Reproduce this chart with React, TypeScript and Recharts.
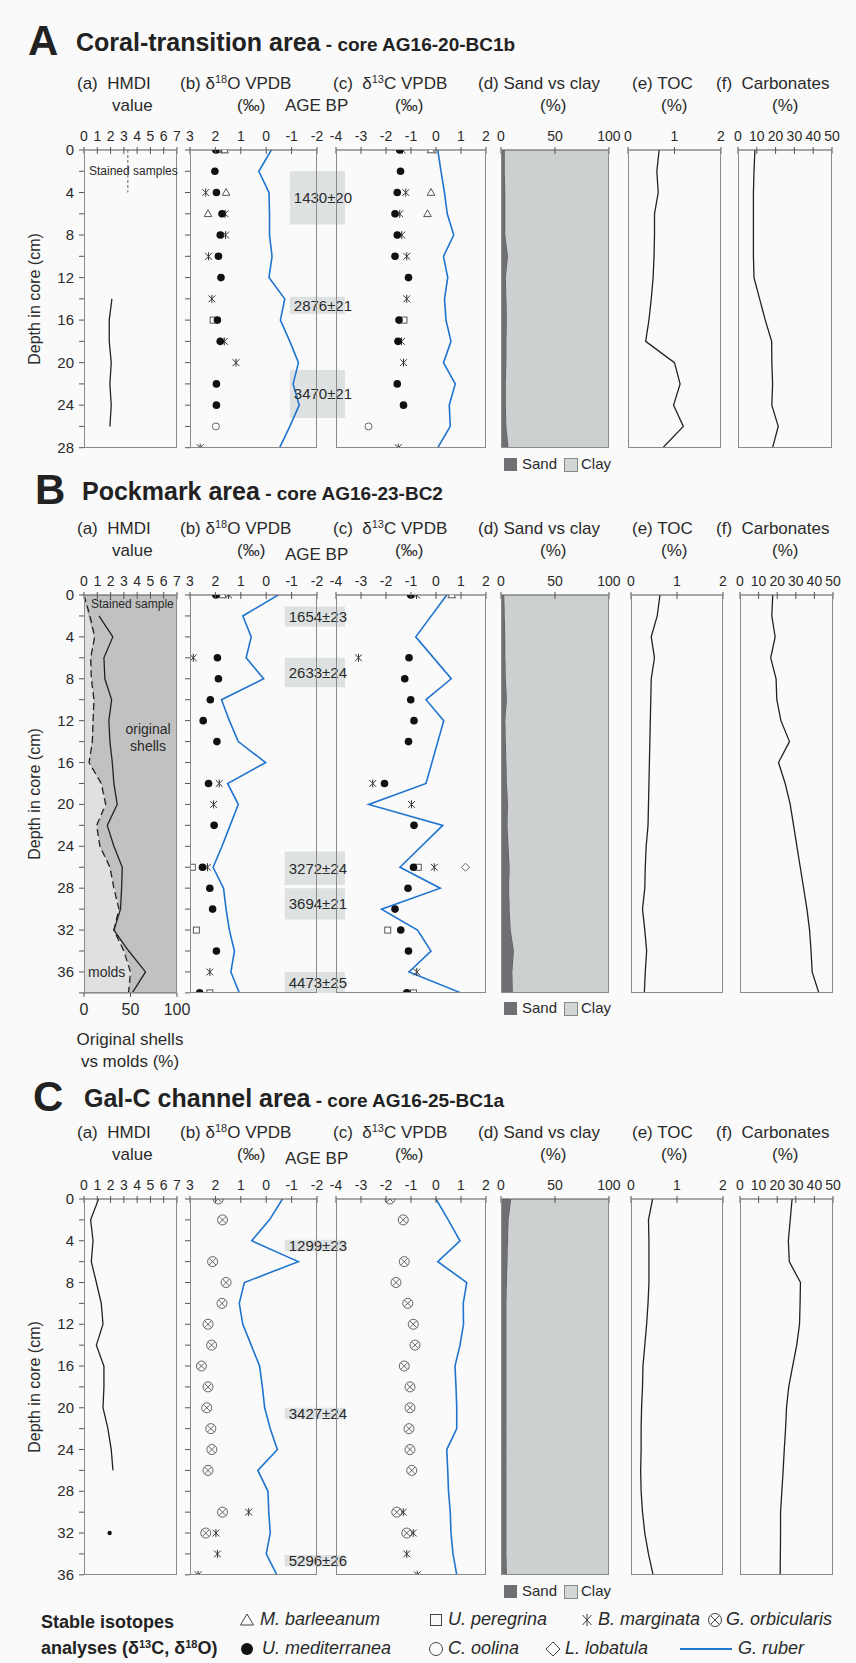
import React from 'react';
import {
  ComposedChart,
  Line,
  Scatter,
  Area,
  XAxis,
  YAxis,
  ReferenceArea,
  ReferenceLine,
} from 'recharts';

const FONT = 'Arial, "Liberation Sans", Helvetica, sans-serif';
const INK = '#2a2a2a';
const BLUE = '#1f74d0';
const PAD_L = 40;
const PAD_T = 30;

type Pair = [number, number];

// ---------- A: coral-transition area, core AG16-20-BC1b
const depthA = [0, 2, 4, 6, 8, 10, 12, 14, 16, 18, 20, 22, 24, 26, 28];
const hmdiA: Pair[] = [[14, 2.1], [16, 1.9], [18, 1.9], [20, 2.05], [22, 1.95], [24, 2.05], [26, 1.95]];
const d18oMedA: Pair[] = [[0, 1.98], [2, 2.02], [4, 1.96], [6, 1.74], [8, 1.81], [10, 1.88], [12, 1.78], [16, 1.92], [18, 1.81], [22, 1.96], [24, 1.96]];
const d18oMarA: Pair[] = [[0, 1.74], [4, 2.38], [6, 1.62], [8, 1.6], [10, 2.27], [14, 2.14], [18, 1.65], [20, 1.19], [28, 2.6]];
const d18oBarA: Pair[] = [[0, 1.64], [4, 1.58], [6, 2.29]];
const d18oPerA: Pair[] = [[16, 2.09]];
const d18oOolA: Pair[] = [[26, 1.98]];
const d18oRubA = [-0.2, 0.29, -0.11, -0.13, -0.13, -0.23, -0.11, -0.73, -0.56, -0.93, -1.27, -1.06, -1.3, -0.93, -0.53];
const d13cMedA: Pair[] = [[0, -1.45], [2, -1.42], [4, -1.55], [6, -1.64], [8, -1.55], [10, -1.64], [12, -1.1], [16, -1.48], [18, -1.52], [22, -1.55], [24, -1.3]];
const d13cMarA: Pair[] = [[0, -1.35], [4, -1.21], [6, -1.45], [8, -1.37], [10, -1.17], [14, -1.17], [18, -1.38], [20, -1.3], [28, -1.51]];
const d13cBarA: Pair[] = [[0, -0.2], [4, -0.2], [6, -0.34]];
const d13cPerA: Pair[] = [[16, -1.28]];
const d13cOolA: Pair[] = [[26, -2.7]];
const d13cRubA = [0.07, 0.2, 0.34, 0.45, 0.71, 0.3, 0.47, 0.34, 0.4, 0.6, 0.3, 0.77, 0.53, 0.57, 0.07];
const sandA = [3.5, 3.5, 4, 4, 4, 6.5, 4.5, 5, 5.5, 5, 5, 4.5, 4.5, 5, 7];
const tocA = [0.67, 0.62, 0.65, 0.57, 0.57, 0.56, 0.54, 0.5, 0.45, 0.38, 1.0, 1.12, 0.98, 1.19, 0.75];
const carbA = [9, 8.5, 8.2, 8.2, 8.2, 8.2, 8.5, 11.5, 14.5, 17.9, 18, 18.4, 18, 21.4, 18.4];
const agesA = ['1430±20', '2876±21', '3470±21'];
const ageTopA = [2, 13.8, 20.7];
const ageBotA = [7, 15.4, 25.2];

// ---------- B: pockmark area, core AG16-23-BC2
const depthB = [0, 2, 4, 6, 8, 10, 12, 14, 16, 18, 20, 22, 24, 26, 28, 30, 32, 34, 36, 38];
const moldsB = [0, 5.3, 11.4, 7.9, 9, 11.4, 10, 9, 6.5, 19.6, 25, 15, 18, 28.5, 34, 39, 34, 44.6, 52, 48];
const hmdiDashB = [0, 0.45, 0.8, 0.5, 0.55, 0.75, 0.68, 0.63, 0.38, 1.3, 1.63, 0.95, 1.2, 1.95, 2.25, 2.63, 2.25, 3.0, 3.5, 3.35];
const hmdiSolidB: Pair[] = [[2, 1.13], [4, 2.17], [6, 1.5], [8, 1.57], [10, 2.08], [12, 1.87], [14, 1.95], [16, 2.13], [18, 2.25], [20, 2.5], [22, 1.75], [24, 2.25], [26, 2.88], [28, 2.83], [30, 2.75], [32, 2.25], [34, 3.37], [36, 4.63], [38, 3.63]];
const d18oMedB: Pair[] = [[0, 1.98], [6, 1.92], [8, 1.88], [10, 2.2], [12, 2.48], [14, 1.94], [18, 2.27], [22, 2.05], [26, 2.51], [28, 2.22], [30, 2.11], [34, 1.96], [38, 2.62]];
const d18oPerB: Pair[] = [[26, 2.91], [32, 2.75], [38, 2.22]];
const d18oMarB: Pair[] = [[0, 1.48], [6, 2.87], [18, 1.85], [20, 2.07], [26, 2.31], [36, 2.22]];
const d18oBarB: Pair[] = [[0, 1.72]];
const d18oRubB = [-0.47, 0.92, 0.59, 0.79, 0.1, 1.76, 1.45, 1.1, 0.02, 1.52, 1.1, 1.42, 1.74, 2.09, 1.68, 1.58, 1.45, 1.25, 1.39, 1.06];
const d13cMedB: Pair[] = [[0, -1.01], [6, -1.08], [8, -1.25], [10, -1.01], [12, -0.88], [14, -1.1], [18, -2.06], [22, -0.88], [26, -0.9], [28, -1.12], [30, -1.64], [32, -1.41], [34, -1.1], [38, -1.17]];
const d13cMarB: Pair[] = [[0, -0.78], [6, -3.1], [18, -2.53], [20, -0.98], [26, -0.07], [36, -0.77]];
const d13cPerB: Pair[] = [[26, -0.71], [32, -1.93], [38, -0.9]];
const d13cBarB: Pair[] = [[0, 0.63]];
const d13cLobB: Pair[] = [[26, 1.18]];
const d13cRubB: Pair[] = [[0, 0.43], [4, -0.81], [8, 0.61], [10, -0.4], [12, 0.31], [18, -0.4], [20, -2.69], [22, 0.27], [26, -1.44], [28, 0.17], [30, -2.18], [32, -0.74], [34, -0.2], [36, -1.08], [38, 1.0]];
const sandB = [3, 3.5, 4, 4, 4.5, 5.5, 4, 4.5, 5, 5.5, 6.5, 6, 7, 8, 7.5, 8, 9, 12, 10.5, 11];
const tocB = [0.63, 0.57, 0.44, 0.51, 0.44, 0.43, 0.42, 0.41, 0.4, 0.39, 0.38, 0.37, 0.33, 0.31, 0.3, 0.25, 0.3, 0.34, 0.31, 0.29];
const carbB = [17.6, 17.1, 18.9, 16.5, 19.4, 19.8, 22, 26.6, 20.7, 24.3, 27, 28.8, 30.6, 32.4, 34.2, 36, 37.4, 38.2, 38.8, 42.4];
const agesB = ['1654±23', '2633±24', '3272±24', '3694±21', '4473±25'];
const ageTopB = [1.1, 6.0, 24.5, 28.0, 36.0];
const ageBotB = [3.0, 8.8, 27.7, 31.0, 38.0];

// ---------- C: Gal-C channel area, core AG16-25-BC1a
const depthC = [0, 2, 4, 6, 8, 10, 12, 14, 16, 18, 20, 22, 24, 26, 28, 30, 32, 34, 36];
const hmdiC: Pair[] = [[0, 1.1], [2, 0.5], [4, 0.68], [6, 0.55], [8, 0.93], [10, 1.3], [12, 1.43], [14, 0.93], [16, 1.5], [18, 1.5], [20, 1.43], [22, 1.8], [24, 2.05], [26, 2.18]];
const hmdiDotC: Pair[] = [[32, 1.93]];
const d18oOrbC: Pair[] = [[0, 1.89], [2, 1.72], [6, 2.11], [8, 1.58], [10, 1.74], [12, 2.29], [14, 2.15], [16, 2.55], [18, 2.29], [20, 2.34], [22, 2.18], [24, 2.14], [26, 2.29], [30, 1.72], [32, 2.38]];
const d18oMarC: Pair[] = [[30, 0.69], [32, 1.98], [34, 1.92], [36, 2.68]];
const d18oRubC = [-0.64, -0.13, 0.57, -1.26, 0.86, 1.06, 0.92, 0.59, 0.26, 0.15, 0.06, -0.16, -0.44, 0.33, -0.07, -0.1, -0.16, 0.0, -0.42];
const d13cOrbC: Pair[] = [[0, -1.84], [2, -1.31], [6, -1.27], [8, -1.6], [10, -1.13], [12, -0.91], [14, -0.84], [16, -1.27], [18, -1.04], [20, -1.04], [22, -1.08], [24, -1.04], [26, -0.97], [30, -1.57], [32, -1.17]];
const d13cMarC: Pair[] = [[30, -1.31], [32, -0.91], [34, -1.17], [36, -0.75]];
const d13cRubC = [0.0, 0.49, 0.96, 0.07, 1.23, 1.09, 1.1, 0.96, 0.76, 0.8, 0.83, 0.83, 0.43, 0.47, 0.5, 0.57, 0.6, 0.68, 0.83];
const sandC = [9.5, 7, 6.5, 6, 5.5, 5, 5, 5, 5, 5, 5, 5, 5, 5, 5, 5, 5, 5, 5.5];
const tocC = [0.47, 0.38, 0.39, 0.39, 0.39, 0.37, 0.34, 0.3, 0.26, 0.25, 0.23, 0.22, 0.22, 0.21, 0.22, 0.25, 0.3, 0.38, 0.48];
const carbC = [28, 27, 26, 26.5, 32.5, 32.3, 32, 30.5, 28.3, 26.2, 25, 24.5, 23.8, 23.2, 22.5, 21.8, 21.8, 21.7, 21.6];
const agesC = ['1299±23', '3427±24', '5296±26'];
const ageTopC = [3.9, 20.0, 34.1];
const ageBotC = [5.0, 21.1, 35.2];

// axis ticks
const hmdiTicks = [0, 1, 2, 3, 4, 5, 6, 7];
const d18oTicks = [3, 2, 1, 0, -1, -2];
const d13cTicks = [-4, -3, -2, -1, 0, 1, 2];
const sandTicks = [0, 50, 100];
const tocTicks = [0, 1, 2];
const carbTicks = [0, 10, 20, 30, 40, 50];

const pts = (p: Pair[]) => p.map(([depth, v]) => ({ depth, v }));
const prof = (d: number[], v: number[]) => v.map((x, i) => ({ depth: d[i], v: x }));
const sandRows = (d: number[], s: number[]) => s.map((x, i) => ({ depth: d[i], sand: x, clay: 100 - x }));

// ---------- marker shapes
const DotShape = (p: any) => <circle cx={p.cx} cy={p.cy} r={3.8} fill="#111" />;
const SmallDot = (p: any) => <circle cx={p.cx} cy={p.cy} r={2.2} fill="#111" />;
const TriShape = (p: any) => (
  <path d={`M${p.cx},${p.cy - 4}L${p.cx + 3.8},${p.cy + 2.8}L${p.cx - 3.8},${p.cy + 2.8}Z`} fill="#fff" stroke="#444" strokeWidth={0.9} />
);
const SqShape = (p: any) => (
  <rect x={p.cx - 3} y={p.cy - 3} width={6} height={6} fill="#fff" stroke="#444" strokeWidth={0.9} />
);
const RingShape = (p: any) => <circle cx={p.cx} cy={p.cy} r={3.5} fill="#fff" stroke="#555" strokeWidth={0.9} />;
const DiaShape = (p: any) => (
  <path d={`M${p.cx},${p.cy - 4}L${p.cx + 4},${p.cy}L${p.cx},${p.cy + 4}L${p.cx - 4},${p.cy}Z`} fill="#fff" stroke="#555" strokeWidth={0.9} />
);
const AstShape = (p: any) => {
  const { cx, cy } = p;
  const r = 3.4;
  return (
    <g stroke="#333" strokeWidth={1}>
      <line x1={cx - r} y1={cy - r} x2={cx + r} y2={cy + r} />
      <line x1={cx - r} y1={cy + r} x2={cx + r} y2={cy - r} />
      <line x1={cx} y1={cy - r - 0.6} x2={cx} y2={cy + r + 0.6} />
    </g>
  );
};
const OrbShape = (p: any) => {
  const { cx, cy } = p;
  const r = 5;
  const k = 3.4;
  return (
    <g stroke="#555" strokeWidth={0.9} fill="none">
      <circle cx={cx} cy={cy} r={r} />
      <line x1={cx - k} y1={cy - k} x2={cx + k} y2={cy + k} />
      <line x1={cx - k} y1={cy + k} x2={cx + k} y2={cy - k} />
    </g>
  );
};

// ---------- series helpers
const ruber = (data: any[]) => (
  <Line data={data} dataKey="v" type="linear" stroke={BLUE} strokeWidth={1.6} dot={false} isAnimationActive={false} />
);
const profile = (data: any[], dash?: string, xAxisId: any = 0) => (
  <Line data={data} xAxisId={xAxisId} dataKey="v" type="linear" stroke="#222" strokeWidth={1.3} strokeDasharray={dash} dot={false} isAnimationActive={false} />
);
const marks = (data: any[], shape: any) => (
  <Scatter data={data} dataKey="v" shape={shape} isAnimationActive={false} />
);
const ageBoxes = (labels: string[], tops: number[], bots: number[], x1: number) =>
  labels.map((t, i) => (
    <ReferenceArea
      key={t}
      x1={x1}
      x2={-3.1}
      y1={tops[i]}
      y2={bots[i]}
      fill="#dde1e1"
      fillOpacity={1}
      stroke="none"
      ifOverflow="visible"
      label={{ value: t, position: 'insideLeft', offset: 4, fontSize: 15, fill: INK, fontFamily: FONT }}
    />
  ));

// ---------- axis ticks
const topTick = (props: any) => {
  const { x, payload } = props;
  return (
    <g>
      <line x1={x} x2={x} y1={PAD_T - 3} y2={PAD_T + 4} stroke="#555" strokeWidth={1} />
      <text x={x} y={PAD_T - 9} textAnchor="middle" fontSize={14} fill={INK} fontFamily={FONT}>
        {payload.value}
      </text>
    </g>
  );
};
const bottomTick = (h: number) => (props: any) => {
  const { x, payload } = props;
  const y0 = PAD_T + h;
  return (
    <g>
      <line x1={x} x2={x} y1={y0} y2={y0 + 4} stroke="#555" strokeWidth={1} />
      <text x={x} y={y0 + 22} textAnchor="middle" fontSize={16} fill={INK} fontFamily={FONT}>
        {payload.value}
      </text>
    </g>
  );
};
const depthTick = (labels: boolean, ticks: boolean) => (props: any) => {
  const { y, payload } = props;
  return (
    <g>
      {ticks && <line x1={PAD_L - 5} x2={PAD_L} y1={y} y2={y} stroke="#555" strokeWidth={1} />}
      {labels && payload.value % 4 === 0 && (
        <text x={PAD_L - 10} y={y + 5} textAnchor="end" fontSize={15} fill={INK} fontFamily={FONT}>
          {payload.value}
        </text>
      )}
    </g>
  );
};

type PanelProps = {
  x0: number;
  x1: number;
  top: number;
  height: number;
  depthMax: number;
  domain: [number, number];
  ticks: number[];
  reversed?: boolean;
  labels?: boolean;
  depthMarks?: boolean;
  padR?: number;
  data?: any[];
  bottomAxis?: boolean;
  children?: React.ReactNode;
};

const Panel = ({
  x0, x1, top, height, depthMax, domain, ticks, reversed, labels = false, depthMarks = false,
  padR = 16, data, bottomAxis = false, children,
}: PanelProps) => {
  const w = x1 - x0;
  const padB = bottomAxis ? 34 : 14;
  const dTicks: number[] = [];
  for (let d = 0; d <= depthMax; d += 2) dTicks.push(d);
  return (
    <>
      <div style={{ position: 'absolute', left: x0 - PAD_L, top: top - PAD_T }}>
        <ComposedChart
          layout="vertical"
          width={PAD_L + w + padR}
          height={PAD_T + height + padB}
          data={data}
          margin={{ top: 0, left: 0, right: padR, bottom: bottomAxis ? 0 : padB }}
        >
          <XAxis
            type="number"
            domain={domain}
            reversed={reversed}
            ticks={ticks}
            interval={0}
            orientation="top"
            height={PAD_T}
            axisLine={{ stroke: '#555', strokeWidth: 1.2 }}
            tickLine={false}
            tick={topTick}
            allowDataOverflow
          />
          {bottomAxis && (
            <XAxis
              xAxisId="p"
              type="number"
              domain={[0, 100]}
              ticks={sandTicks}
              interval={0}
              orientation="bottom"
              height={padB}
              axisLine={{ stroke: '#777', strokeWidth: 1.2 }}
              tickLine={false}
              tick={bottomTick(height)}
              allowDataOverflow
            />
          )}
          <YAxis
            type="number"
            dataKey="depth"
            domain={[0, depthMax]}
            ticks={dTicks}
            interval={0}
            width={PAD_L}
            axisLine={false}
            tickLine={false}
            tick={depthTick(labels, depthMarks || labels)}
            allowDataOverflow
          />
          {children}
        </ComposedChart>
      </div>
      <div
        style={{
          position: 'absolute',
          left: x0,
          top,
          width: w,
          height,
          borderLeft: '1.3px solid #8a8a8a',
          borderRight: '1.3px solid #8a8a8a',
          borderBottom: '1.3px solid #8a8a8a',
          boxSizing: 'border-box',
          pointerEvents: 'none',
        }}
      />
    </>
  );
};

// ---------- text helpers
const Txt = ({ x, y, s = 17, w = 400, it = false, center = false, c = INK, children }: any) => (
  <div
    style={{
      position: 'absolute',
      left: x,
      top: y - s * 0.6,
      fontSize: s,
      lineHeight: `${s * 1.2}px`,
      fontWeight: w,
      fontStyle: it ? 'italic' : 'normal',
      color: c,
      whiteSpace: 'nowrap',
      fontFamily: FONT,
      transform: center ? 'translateX(-50%)' : undefined,
    }}
  >
    {children}
  </div>
);
const Sup = ({ children }: any) => (
  <span style={{ fontSize: 11, position: 'relative', top: -6 }}>{children}</span>
);

const Title = ({ letter, lx, tx, y, name, core }: any) => (
  <>
    <Txt x={lx} y={y - 1} s={42} w={700} c="#222">{letter}</Txt>
    <Txt x={tx} y={y} s={25} w={700} c="#222">
      {name}
      <span style={{ fontSize: 19 }}> - core {core}</span>
    </Txt>
  </>
);

const Headers = ({ T, ageDy }: { T: number; ageDy: number }) => (
  <>
    <Txt x={77} y={T - 66}>(a)&nbsp; HMDI</Txt>
    <Txt x={112} y={T - 44}>value</Txt>
    <Txt x={180} y={T - 66}>(b) δ<Sup>18</Sup>O VPDB</Txt>
    <Txt x={237} y={T - 44}>(‰)</Txt>
    <Txt x={285} y={T + ageDy}>AGE BP</Txt>
    <Txt x={333} y={T - 66}>(c)&nbsp; δ<Sup>13</Sup>C VPDB</Txt>
    <Txt x={395} y={T - 44}>(‰)</Txt>
    <Txt x={478} y={T - 66}>(d) Sand vs clay</Txt>
    <Txt x={540} y={T - 44}>(%)</Txt>
    <Txt x={632} y={T - 66}>(e) TOC</Txt>
    <Txt x={661} y={T - 44}>(%)</Txt>
    <Txt x={716} y={T - 66}>(f)&nbsp; Carbonates</Txt>
    <Txt x={772} y={T - 44}>(%)</Txt>
  </>
);

const DepthLabel = ({ cy }: { cy: number }) => (
  <div
    style={{
      position: 'absolute',
      left: 35,
      top: cy,
      transform: 'translate(-50%, -50%) rotate(-90deg)',
      fontSize: 16,
      whiteSpace: 'nowrap',
      color: INK,
      fontFamily: FONT,
    }}
  >
    Depth in core (cm)
  </div>
);

const SandClay = ({ y }: { y: number }) => (
  <>
    <div style={{ position: 'absolute', left: 504, top: y - 6, width: 13, height: 13, background: '#6f6f74' }} />
    <Txt x={522} y={y} s={15}>Sand</Txt>
    <div style={{ position: 'absolute', left: 564, top: y - 6, width: 12, height: 12, background: '#d3d6d6', border: '1px solid #888' }} />
    <Txt x={581} y={y} s={15}>Clay</Txt>
  </>
);

const sandAreas = () => [
  <Area key="s" dataKey="sand" stackId="s" type="linear" fill="#6f6f74" fillOpacity={1} stroke="#555" strokeWidth={1} isAnimationActive={false} />,
  <Area key="c" dataKey="clay" stackId="s" type="linear" fill="#cdd0d0" fillOpacity={1} stroke="none" isAnimationActive={false} />,
];

// legend symbols drawn as small svgs
const LegSym = ({ x, y, kind }: { x: number; y: number; kind: string }) => {
  const s = 16;
  const c = s / 2;
  let el: React.ReactNode = null;
  if (kind === 'tri') el = <path d={`M${c},2L${s - 1.5},${s - 3}L1.5,${s - 3}Z`} fill="none" stroke="#444" strokeWidth={1} />;
  if (kind === 'sq') el = <rect x={2.5} y={2.5} width={s - 5} height={s - 5} fill="none" stroke="#444" strokeWidth={1} />;
  if (kind === 'ast')
    el = (
      <g stroke="#444" strokeWidth={1}>
        <line x1={c - 4.5} y1={c - 5} x2={c + 4.5} y2={c + 5} />
        <line x1={c - 4.5} y1={c + 5} x2={c + 4.5} y2={c - 5} />
        <line x1={c} y1={c - 6} x2={c} y2={c + 6} />
      </g>
    );
  if (kind === 'orb')
    el = (
      <g stroke="#444" strokeWidth={1} fill="none">
        <circle cx={c} cy={c} r={6.5} />
        <line x1={c - 4.5} y1={c - 4.5} x2={c + 4.5} y2={c + 4.5} />
        <line x1={c - 4.5} y1={c + 4.5} x2={c + 4.5} y2={c - 4.5} />
      </g>
    );
  if (kind === 'dot') el = <circle cx={c} cy={c} r={6} fill="#111" />;
  if (kind === 'ring') el = <circle cx={c} cy={c} r={6.5} fill="none" stroke="#444" strokeWidth={1} />;
  if (kind === 'dia') el = <path d={`M${c},1L${s - 1},${c}L${c},${s - 1}L1,${c}Z`} fill="none" stroke="#444" strokeWidth={1} />;
  return (
    <svg width={s} height={s} style={{ position: 'absolute', left: x, top: y - c }}>
      {el}
    </svg>
  );
};

const HA = 297.7;
const HB = 397.9;
const HC = 375.8;
const TA = 150;
const TB = 595;
const TC = 1199.3;

export default function App() {
  const moldRows = moldsB.map((m, i) => ({ depth: depthB[i], molds: m, shells: 100 - m }));
  return (
    <div
      style={{
        position: 'absolute',
        left: 0,
        top: 0,
        width: 856,
        height: 1663,
        background: '#fafafa',
        overflow: 'hidden',
        fontFamily: FONT,
      }}
    >
      {/* ================= A ================= */}
      <Title letter="A" lx={28} tx={76} y={42} name="Coral-transition area" core="AG16-20-BC1b" />
      <Headers T={TA} ageDy={-44} />
      <DepthLabel cy={TA + HA / 2} />
      <Panel x0={84} x1={177} top={TA} height={HA} depthMax={28} domain={[0, 7]} ticks={hmdiTicks} labels>
        <ReferenceLine segment={[{ x: 3.3, y: 0 }, { x: 3.3, y: 4 }]} stroke="#666" strokeDasharray="3 2" ifOverflow="visible" />
        {profile(pts(hmdiA))}
      </Panel>
      <Txt x={89} y={TA + 21} s={12}>Stained samples</Txt>
      <Panel x0={190} x1={317} top={TA} height={HA} depthMax={28} domain={[-2, 3]} reversed ticks={d18oTicks} depthMarks padR={45}>
        {ageBoxes(agesA, ageTopA, ageBotA, -0.93)}
        {ruber(prof(depthA, d18oRubA))}
        {marks(pts(d18oMarA), AstShape)}
        {marks(pts(d18oBarA), TriShape)}
        {marks(pts(d18oPerA), SqShape)}
        {marks(pts(d18oOolA), RingShape)}
        {marks(pts(d18oMedA), DotShape)}
      </Panel>
      <Panel x0={336} x1={486} top={TA} height={HA} depthMax={28} domain={[-4, 2]} ticks={d13cTicks}>
        {ruber(prof(depthA, d13cRubA))}
        {marks(pts(d13cMarA), AstShape)}
        {marks(pts(d13cBarA), TriShape)}
        {marks(pts(d13cPerA), SqShape)}
        {marks(pts(d13cOolA), RingShape)}
        {marks(pts(d13cMedA), DotShape)}
      </Panel>
      <Panel x0={501} x1={609} top={TA} height={HA} depthMax={28} domain={[0, 100]} ticks={sandTicks} data={sandRows(depthA, sandA)}>
        {sandAreas()}
      </Panel>
      <SandClay y={TA + HA + 16} />
      <Panel x0={628} x1={721} top={TA} height={HA} depthMax={28} domain={[0, 2]} ticks={tocTicks}>
        {profile(prof(depthA, tocA))}
      </Panel>
      <Panel x0={738} x1={832} top={TA} height={HA} depthMax={28} domain={[0, 50]} ticks={carbTicks}>
        {profile(prof(depthA, carbA))}
      </Panel>

      {/* ================= B ================= */}
      <Title letter="B" lx={35} tx={82} y={491} name="Pockmark area" core="AG16-23-BC2" />
      <Headers T={TB} ageDy={-40} />
      <DepthLabel cy={TB + HB / 2} />
      <Panel x0={84} x1={177} top={TB} height={HB} depthMax={38} domain={[0, 7]} ticks={hmdiTicks} labels data={moldRows} bottomAxis>
        <Area xAxisId="p" dataKey="molds" stackId="m" type="linear" fill="#e0e0e0" fillOpacity={1} stroke="#9c9c9c" strokeWidth={1} isAnimationActive={false} />
        <Area xAxisId="p" dataKey="shells" stackId="m" type="linear" fill="#c1c1c1" fillOpacity={1} stroke="none" isAnimationActive={false} />
        {profile(prof(depthB, hmdiDashB), '7 4')}
        {profile(pts(hmdiSolidB))}
      </Panel>
      <Txt x={91} y={TB + 9} s={12}>Stained sample</Txt>
      <Txt x={148} y={TB + 134} s={14} center>original</Txt>
      <Txt x={148} y={TB + 151} s={14} center>shells</Txt>
      <Txt x={88} y={TB + 377} s={14}>molds</Txt>
      <Txt x={130} y={1040} s={17} center>Original shells</Txt>
      <Txt x={130} y={1062} s={17} center>vs molds (%)</Txt>
      <Panel x0={190} x1={317} top={TB} height={HB} depthMax={38} domain={[-2, 3]} reversed ticks={d18oTicks} depthMarks padR={45}>
        {ageBoxes(agesB, ageTopB, ageBotB, -0.73)}
        {ruber(prof(depthB, d18oRubB))}
        {marks(pts(d18oMarB), AstShape)}
        {marks(pts(d18oBarB), TriShape)}
        {marks(pts(d18oPerB), SqShape)}
        {marks(pts(d18oMedB), DotShape)}
      </Panel>
      <Panel x0={336} x1={486} top={TB} height={HB} depthMax={38} domain={[-4, 2]} ticks={d13cTicks}>
        {ruber(pts(d13cRubB))}
        {marks(pts(d13cMarB), AstShape)}
        {marks(pts(d13cBarB), TriShape)}
        {marks(pts(d13cPerB), SqShape)}
        {marks(pts(d13cLobB), DiaShape)}
        {marks(pts(d13cMedB), DotShape)}
      </Panel>
      <Panel x0={501} x1={609} top={TB} height={HB} depthMax={38} domain={[0, 100]} ticks={sandTicks} data={sandRows(depthB, sandB)}>
        {sandAreas()}
      </Panel>
      <SandClay y={TB + HB + 15} />
      <Panel x0={631} x1={723} top={TB} height={HB} depthMax={38} domain={[0, 2]} ticks={tocTicks}>
        {profile(prof(depthB, tocB))}
      </Panel>
      <Panel x0={740} x1={833} top={TB} height={HB} depthMax={38} domain={[0, 50]} ticks={carbTicks}>
        {profile(prof(depthB, carbB))}
      </Panel>

      {/* ================= C ================= */}
      <Title letter="C" lx={33} tx={84} y={1098} name="Gal-C channel area" core="AG16-25-BC1a" />
      <Headers T={TC} ageDy={-40} />
      <DepthLabel cy={TC + HC / 2} />
      <Panel x0={84} x1={177} top={TC} height={HC} depthMax={36} domain={[0, 7]} ticks={hmdiTicks} labels>
        {profile(pts(hmdiC))}
        {marks(pts(hmdiDotC), SmallDot)}
      </Panel>
      <Panel x0={190} x1={317} top={TC} height={HC} depthMax={36} domain={[-2, 3]} reversed ticks={d18oTicks} depthMarks padR={45}>
        {ageBoxes(agesC, ageTopC, ageBotC, -0.73)}
        {ruber(prof(depthC, d18oRubC))}
        {marks(pts(d18oMarC), AstShape)}
        {marks(pts(d18oOrbC), OrbShape)}
      </Panel>
      <Panel x0={336} x1={486} top={TC} height={HC} depthMax={36} domain={[-4, 2]} ticks={d13cTicks}>
        {ruber(prof(depthC, d13cRubC))}
        {marks(pts(d13cMarC), AstShape)}
        {marks(pts(d13cOrbC), OrbShape)}
      </Panel>
      <Panel x0={501} x1={609} top={TC} height={HC} depthMax={36} domain={[0, 100]} ticks={sandTicks} data={sandRows(depthC, sandC)}>
        {sandAreas()}
      </Panel>
      <SandClay y={TC + HC + 16} />
      <Panel x0={631} x1={723} top={TC} height={HC} depthMax={36} domain={[0, 2]} ticks={tocTicks}>
        {profile(prof(depthC, tocC))}
      </Panel>
      <Panel x0={740} x1={833} top={TC} height={HC} depthMax={36} domain={[0, 50]} ticks={carbTicks}>
        {profile(prof(depthC, carbC))}
      </Panel>

      {/* ================= legend ================= */}
      <Txt x={41} y={1623} s={18} w={700} c="#222">Stable isotopes</Txt>
      <Txt x={41} y={1649} s={18} w={700} c="#222">analyses (δ<Sup>13</Sup>C, δ<Sup>18</Sup>O)</Txt>
      <LegSym x={239} y={1620} kind="tri" />
      <Txt x={260} y={1620} s={18} it>M. barleeanum</Txt>
      <LegSym x={428} y={1620} kind="sq" />
      <Txt x={448} y={1620} s={18} it>U. peregrina</Txt>
      <LegSym x={579} y={1620} kind="ast" />
      <Txt x={598} y={1620} s={18} it>B. marginata</Txt>
      <LegSym x={707} y={1620} kind="orb" />
      <Txt x={726} y={1620} s={18} it>G. orbicularis</Txt>
      <LegSym x={239} y={1649} kind="dot" />
      <Txt x={262} y={1649} s={18} it>U. mediterranea</Txt>
      <LegSym x={428} y={1649} kind="ring" />
      <Txt x={448} y={1649} s={18} it>C. oolina</Txt>
      <LegSym x={545} y={1649} kind="dia" />
      <Txt x={565} y={1649} s={18} it>L. lobatula</Txt>
      <div style={{ position: 'absolute', left: 680, top: 1648, width: 52, height: 2, background: BLUE }} />
      <Txt x={738} y={1649} s={18} it>G. ruber</Txt>
    </div>
  );
}
